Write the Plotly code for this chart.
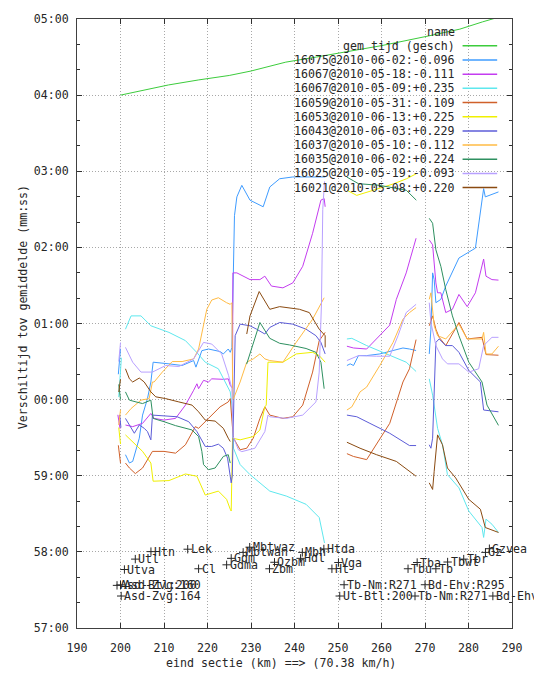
import plotly.graph_objects as go

# ---------------- data ----------------
km_gem = [200.0, 202.0, 206.0, 211.0, 218.0, 225.0, 230.0, 238.0, 245.0, 252.0, 260.0, 270.9, 278.0, 283.2, 287.5]
t_gem = [240, 241.5, 244, 248, 252, 255.5, 259, 266, 270, 274, 279, 286.7, 292, 297.7, 302]

km_16075 = [199.5, 200.0, None,
            201.14, 202.05, 202.8, 204.32, 205.07, 206.2, 206.98, 207.5, 211.14, 214.16, 216.82, 217.34, 218.7, 220.23, 222.89, 223.64, 224.77, 225.23, 225.61, 225.9, 226.2, 226.75, 227.89, 229.77, 232.8, 234.32, 236.59, 239.61, 247.1, None,
            252.05, 252.8, 253.57, 254.7, 256.59, 259.61, 262.66, 264.93, 266.43, 267.95, None,
            270.98, 271.36, 271.75, 272.11, 272.5, 273.64, 274.77, 277.8, 281.59, 283.48, 283.86, 286.89]
t_16075 = [20, 40, None,
           -43.4, -49.9, -48.7, -30.4, -12.2, 0.8, 13.9, 29.5, 28.2, 26.9, 30.8, 25.6, 38.6, 39.9, 37.9, 36.0, 39.9, 37.3, 41, 100, 145, 159.8, 168.9, 157.2, 152.0, 167.6, 174.1, 175.5, 175.5, None,
           26.9, 28.2, 26.9, 34.7, 34.7, 36.0, 38.7, 40.7, 39.9, 38.7, None,
           36.0, 55.5, 99.9, 94.6, 76.4, 79.0, 89.5, 111.6, 119.4, 166.3, 159.8, 163.7]

km_16067a = [199.4, 199.9, None,
             201.14, 202.8, 205.07, 206.98, 207.73, 210.0, 212.66, 214.93, 216.82, 217.57, 217.95, 219.09, 220.23, 220.98, 223.64, 224.77, 225.23, 225.75, 225.84, 226.75, 229.77, 232.05, 233.18, 234.7, 237.34, 239.61, 241.89, 244.16, 246.07, 246.82, 247.05, None,
             252.05, 253.57, 256.59, 261.89, 263.41, 265.68, 267.95, None,
             270.98, 271.75, 272.5, 272.89, 273.64, 274.77, 276.3, 277.8, 279.7, 281.59, 283.48, 284.02, 285.39, 286.89]
t_16067a = [-12, -23, None,
            -20.0, -21.3, -18.7, -10.9, -14.8, -16.1, -14.8, -4.3, 7.4, 12.5, 8.6, 15.2, 13.9, 16.4, 16.0, 16.4, 11.3, 9, 99.9, 99.9, 94.6, 94.6, 97.3, 89.5, 88.1, 92.0, 105.1, 131.1, 157.2, 158.5, 152.0, None,
            42.1, 40.7, 39.9, 58.7, 79.0, 99.9, 127.2, None,
            125.9, 122.0, 92.0, 84.2, 84.2, 68.6, 71.2, 82.9, 73.3, 84.2, 110.8, 97.3, 94.6, 94.2]

km_16067b = [199.6, 200.0, 200.2, None,
             201.14, 202.43, 204.7, 206.98, 211.14, 214.93, 217.5, 219.48, 222.5, 224.39, 225.23, 225.61, 225.98, 227.5, 229.77, 234.32, 238.11, 242.66, 245.68, 246.9, None,
             252.05, 253.18, 256.59, 261.89, 265.68, 267.95, None,
             270.98, 271.75, 272.89, 274.02, 275.16, 277.8, 280.07, 283.11, 283.48, 284.02, 285.39, 286.89]
t_16067b = [2, 22, 33, None,
            55.5, 66.0, 66.0, 58.2, 53.0, 46.5, 37.3, 29.5, 24.3, 11.5, 6.1, -4.3, -38.3, -51.2, -59.1, -72.1, -76.0, -82.5, -92.9, -113, None,
            47.8, 48.3, 42.6, 34.7, 29.5, 22.2, None,
            16.4, 3.5, -22.6, -35.6, -59.1, -69.5, -87.8, -100.8, -108.6, -94.2, -98.2, -104.7]

km_16059 = [199.5, 200.0, None,
            201.14, 202.05, 203.41, 205.07, 207.34, 210.0, 212.66, 214.93, 217.2, 217.95, 220.23, 222.89, 224.77, 225.23, 225.7, 225.98, 227.5, 229.02, 230.52, 232.05, 233.18, 234.32, 237.34, 239.61, 241.89, 244.16, 245.68, 247.05, None,
            252.05, 253.57, 256.59, 261.89, 264.93, 266.43, 267.95, None,
            270.98, 271.75, 272.5, 273.25, 274.77, 277.8, 279.7, 283.11, 284.02, 285.39, 286.89]
t_16059 = [-36, -50, None,
           -50.0, -53.9, -58.3, -53.9, -40.8, -40.8, -42.2, -35.6, -21.3, -22.6, -14.8, -5.7, -1.8, 0.8, -20, -30.4, -39.5, -38.3, -30.4, -14.8, -5.7, -12.2, -14.8, -13.5, -4.3, 21.7, 46.5, 53.0, None,
           -42.6, -44.8, -47.3, -18.7, 13.9, 24.3, 47.3, None,
           58.2, 66.0, 55.5, 49.1, 42.6, 60.8, 47.8, 49.1, 35.5, 35.5, 35.0]

km_16053 = [199.6, 200.0, None,
            201.14, 202.8, 205.07, 206.98, 207.5, 211.14, 214.93, 217.57, 219.48, 222.5, 224.39, 225.23, 225.45, 225.75, 227.5, 230.52, 232.05, 233.18, 233.5, 233.9, 237.34, 240.39, 244.16, 245.68, 247.05, None,
            252.05, 254.3, 258.1, 262.7, 265.7, 268.0]
t_16053 = [-22, -35, None,
           -27.8, -33.0, -40.8, -50.0, -64.3, -63.8, -58.6, -60.4, -75.2, -72.1, -78.6, -86.4, -87.8, -30.4, -31.7, -29.1, -23.9, -5.7, -4.3, 29.5, 29.5, 36.0, 37.3, 34.7, 29.5, None,
           165, 161, 165, 170, 174, 178]

km_16043 = [199.8, 200.1, None,
            201.14, 202.05, 203.18, 204.32, 205.45, 206.2, 206.98, 207.34, 210.0, 213.02, 215.68, 217.57, 219.48, 220.98, 222.5, 223.64, 224.61, 225.23, 225.45, 225.7, 226.36, 227.5, 229.77, 231.3, 233.18, 234.32, 236.59, 239.61, 242.66, 244.93, 246.07, 247.05, None,
            252.05, 254.32, 257.34, 261.89, 266.43, 267.95, None,
            270.98, 271.36, 271.75, 272.11, 272.5, 273.25, 274.77, 276.3, 277.8, 280.07, 282.73, 283.48, 286.89]
t_16043 = [-12, -22, None,
           -14.8, -20.0, -26.5, -20.0, -22.6, -25.2, -31.7, -12.2, -12.8, -13.5, -17.4, -25.2, -36.9, -36.9, -35.1, -38.3, -46.1, -61.7, -65.6, -60, 50.4, 59.5, 58.2, 55.5, 51.7, 56.9, 60.8, 59.5, 55.5, 50.4, 45.1, 36.0, None,
           -12.2, -13.5, -18.7, -26.5, -36.2, -36.2, None,
           -35.6, -38.3, -30.4, 13.9, 45.1, 47.8, 42.6, 42.6, 37.3, 23.0, 13.9, -8.2, -9.6]

km_16037 = [199.6, 200.0, None,
            201.14, 202.43, 204.7, 206.59, 207.34, 207.73, 209.61, 211.89, 214.16, 216.82, 217.95, 219.09, 219.84, 220.98, 222.5, 224.39, 225.23, 225.61, 225.8, 225.98, 227.5, 229.02, 230.52, 232.05, 233.18, 234.32, 237.34, 240.39, 244.16, 246.82, None,
            252.05, 253.18, 255.07, 256.59, 259.61, 262.66, 264.93, 266.43, 267.95, None,
            270.98, 271.36, 272.11, 272.89, 274.77, 277.8, 279.7, 283.11, 283.48, 284.02, 285.39, 286.89]
t_16037 = [-20, -8, None,
           -12.2, -7.0, -0.4, 0.8, 13.9, 13.9, 21.7, 30.0, 30.0, 32.1, 39.9, 58.2, 71.2, 78.5, 80.3, 76.4, 75.1, 76.4, 0, 0.8, 13.9, 29.5, 32.1, 36.0, 32.1, 30.8, 29.5, 45.1, 63.4, 80.3, None,
           -8.2, -5.7, 6.1, 9.9, 26.9, 45.1, 63.4, 68.6, 72.5, None,
           79.0, 84.2, 58.2, 50.4, 47.8, 59.5, 47.8, 47.8, 53.0, 36.0, 36.0, 42.1]

km_16035 = [199.6, 200.0, None,
            201.14, 202.05, 203.57, 205.07, 206.98, 207.5, 210.0, 212.66, 216.43, 217.95, 218.7, 219.09, 220.23, 221.75, 223.64, 224.77, 225.23, None,
            229.0, 232.05, 234.32, 236.59, 238.86, 242.66, 244.93, 246.07, 246.82, None,
            252.0, 254.7, 259.6, 265.7, 268.0, None,
            270.98, 271.75, 272.5, 273.64, 274.77, 276.3, 277.8, 280.07, 283.11, 284.25, 286.89]
t_16035 = [12, 0, None,
           6.1, -0.4, -1.8, -3.1, -0.4, -14.8, -17.4, -20.5, -23.9, -29.1, -40.8, -51.2, -55.2, -53.9, -44.8, -43.4, -50.0, None,
           28.0, 60.8, 48.3, 44.4, 43.1, 40.3, 37.3, 29.5, 8.6, None,
           175.5, 170.2, 168.9, 165.0, 157.2, None,
           142.9, 139.0, 118.1, 105.1, 86.8, 66.0, 50.4, 29.5, 13.9, -4.3, -20.3]

km_16025 = [199.6, 200.0, None,
            201.14, 202.8, 204.7, 207.34, 210.39, 213.41, 216.82, 219.09, 220.98, 223.25, 224.84, 225.61, 225.9, 227.1, 227.89, 230.9, 233.18, 233.9, 234.32, 238.11, 241.89, 244.93, 245.68, 246.2, 246.5, 246.9, None,
            252.05, 254.7, 258.86, 261.89, 263.8, 265.68, 267.95, None,
            270.98, 271.36, 272.5, 274.02, 275.16, 277.8, 280.07, 282.34, 283.48, 285.39, 286.89]
t_16025 = [30, 45, None,
           41.2, 29.5, 21.7, 21.7, 26.9, 26.1, 32.1, 45.1, 43.8, 36.0, 19.1, 8.6, -29, -39.5, -41, -38.3, -25.2, -12.2, -13.5, -14.8, -12.2, -1.8, 21.7, 76, 150, 172, None,
           30.8, 34.7, 34.2, 34.2, 50.4, 68.6, 75.1, None,
           76.4, 60.8, 42.6, 32.1, 28.2, 28.2, 21.7, 24.3, 42.6, 49.1, 49.1]

km_16021 = [199.6, 200.0, None,
            201.14, 202.05, 202.8, 204.32, 205.45, 206.98, 208.11, 210.39, 213.41, 216.43, 217.95, 219.48, 221.75, 223.64, 224.77, 225.23, None,
            229.02, 229.77, 231.88, 234.32, 236.59, 241.14, 243.41, 245.68, 247.05, 247.05, None,
            252.05, 255.07, 258.86, 263.41, 267.95, None,
            270.98, 271.75, 272.11, 272.89, 274.02, 275.16, 277.05, 280.07, 282.73, 283.86, 286.89]
t_16021 = [6, 16, None,
           24.3, 16.4, 13.9, 17.0, 13.9, 6.1, 2.2, 0.8, -1.8, -4.3, -9.6, -16.1, -16.9, -22.6, -30.4, -33.0, None,
           51.7, 66.0, 85.2, 71.2, 73.3, 71.2, 68.6, 55.5, 50.4, 41.2, None,
           -33.6, -38.3, -43.4, -48.7, -60.4, None,
           -65.6, -70.8, -56.5, -27.8, -35.6, -53.9, -61.7, -78.6, -86.4, -100.8, -104.7]

series_names = ["gem tijd (gesch)",
                "16075@2010-06-02:-0.096", "16067@2010-05-18:-0.111", "16067@2010-05-09:+0.235",
                "16059@2010-05-31:-0.109", "16053@2010-06-13:+0.225", "16043@2010-06-03:+0.229",
                "16037@2010-05-10:-0.112", "16035@2010-06-02:+0.224", "16025@2010-05-19:-0.093",
                "16021@2010-05-08:+0.220"]
series_km = [km_gem, km_16075, km_16067a, km_16067b, km_16059, km_16053, km_16043, km_16037, km_16035, km_16025, km_16021]
series_t = [t_gem, t_16075, t_16067a, t_16067b, t_16059, t_16053, t_16043, t_16037, t_16035, t_16025, t_16021]
series_colors = ["#3ccc3c", "#3f9cff", "#c43cf0", "#5ee8ee", "#d0602a", "#f0f000", "#5c5cd8",
                 "#ffbb44", "#2e9060", "#b8a0ff", "#8a4a10"]

station_names = ["Asd-Zvg:164", "Asd-Btl:200", "Asd-Zvg:160", "Utva", "Utl", "Htn", "Lek", "Cl", "Gdma", "Gdm",
                 "Mbtwan", "Mbtwaz", "Zbm", "Ozbm", "Hdl", "Mbh", "Htda", "Ht", "Vga", "Tb-Nm:R271",
                 "Ut-Btl:200", "Tbu", "Tba", "Tb-Nm:R271", "Bd-Ehv:R295", "Tb", "Tbwt", "Tbr",
                 "Bd-Ehv:R295", "Gz", "Gzvea"]
station_km = [200.16, 199.2, 200.0, 200.9, 203.4, 207.0, 215.45, 217.95, 224.4, 225.45,
              228.2, 229.7, 234.25, 235.4, 241.4, 241.8, 246.75, 248.6, 250.1, 251.4,
              250.4, 266.1, 268.2, 267.7, 270.0, 272.5, 275.2, 278.9,
              285.6, 283.9, 284.8]
station_t = [-154.8, -146.4, -146.0, -133.9, -125.7, -119.8, -117.9, -133.3, -130.2, -125.1,
             -120.4, -116.3, -133.3, -128.2, -125.1, -120.4, -117.7, -133.3, -128.4, -145.9,
             -154.8, -133.3, -128.4, -154.8, -145.9, -133.3, -128.0, -125.7,
             -154.8, -120.4, -117.5]

ytick_vals = [-180, -120, -60, 0, 60, 120, 180, 240, 300]
ytick_text = ["57:00", "58:00", "59:00", "00:00", "01:00", "02:00", "03:00", "04:00", "05:00"]

# ---------------- figure ----------------
FONT = "DejaVu Sans Mono"
FS = 11.6
TXT = "#262626"
fig = go.Figure()
for name, xs, ys, col in zip(series_names, series_km, series_t, series_colors):
    fig.add_trace(go.Scatter(x=xs, y=ys, mode="lines", name=name,
                             line=dict(color=col, width=1), connectgaps=False,
                             showlegend=False))

fig.add_trace(go.Scatter(x=station_km, y=station_t, mode="markers",
                         marker=dict(symbol="cross-thin", size=6, line=dict(width=1, color=TXT),
                                     color=TXT),
                         cliponaxis=False, showlegend=False))

W, H = 534, 673
L, R, T, B = 77, 17, 14, 45
pw, ph = W - L - R, H - T - B

def px2paper(px, py):
    return (px - L) / pw, (H - B - py) / ph

annotations = []
shapes = []
for name, xv, yv in zip(station_names, station_km, station_t):
    annotations.append(dict(x=xv, y=yv, xref="x", yref="y", text=name, showarrow=False,
                            xanchor="left", yanchor="middle", xshift=1,
                            font=dict(family=FONT, size=FS, color=TXT)))

# legend title
x0, y0 = px2paper(461, 27)
annotations.append(dict(x=x0, y=y0, xref="paper", yref="paper", text="name", showarrow=False,
                        xanchor="right", yanchor="middle", font=dict(family=FONT, size=FS, color=TXT)))
for i, (name, col) in enumerate(zip(series_names, series_colors)):
    py = 41 + 14.3 * i
    xa, ya = px2paper(461, py)
    annotations.append(dict(x=xa, y=ya, xref="paper", yref="paper", text=name, showarrow=False,
                            xanchor="right", yanchor="middle",
                            font=dict(family=FONT, size=FS, color=TXT)))
    lx0, _ = px2paper(467, py)
    lx1, _ = px2paper(502, py)
    shapes.append(dict(type="line", xref="paper", yref="paper", x0=lx0, x1=lx1, y0=ya, y1=ya,
                       line=dict(color=col, width=1.5)))

# axis titles
xt, yt = px2paper(283, 663)
annotations.append(dict(x=xt, y=yt, xref="paper", yref="paper", text="eind sectie (km) ==> (70.38 km/h)",
                        showarrow=False, xanchor="center", yanchor="middle",
                        font=dict(family=FONT, size=FS, color=TXT)))
xt, yt = px2paper(22, 305)
annotations.append(dict(x=xt, y=yt, xref="paper", yref="paper", text="Verschiltijd tov gemiddelde (mm:ss)",
                        showarrow=False, xanchor="center", yanchor="middle", textangle=-90,
                        font=dict(family=FONT, size=FS, color=TXT)))

fig.update_layout(
    width=W, height=H,
    margin=dict(l=L, r=R, t=T, b=B, pad=0),
    paper_bgcolor="white", plot_bgcolor="white",
    font=dict(family=FONT, size=FS, color=TXT),
    annotations=annotations, shapes=shapes,
    showlegend=False,
)
fig.update_xaxes(range=[190, 290], tickmode="linear", tick0=190, dtick=10,
                 ticks="inside", ticklen=5, tickcolor="#303030", mirror="ticks",
                 showline=True, linecolor="#404040", linewidth=1,
                 showgrid=True, gridcolor="#a8a8a8", griddash="1px,2px", gridwidth=1,
                 zeroline=False, ticklabelstandoff=9,
                 tickfont=dict(family=FONT, size=FS, color=TXT))
fig.update_yaxes(range=[-180, 300], tickmode="array", tickvals=ytick_vals, ticktext=ytick_text,
                 ticks="inside", ticklen=5, tickcolor="#303030", mirror="ticks",
                 showline=True, linecolor="#404040", linewidth=1,
                 showgrid=True, gridcolor="#a8a8a8", griddash="1px,2px", gridwidth=1,
                 zeroline=False, ticklabelstandoff=5,
                 tickfont=dict(family=FONT, size=FS, color=TXT),
                 minor=dict(tickmode="linear", tick0=0, dtick=20, ticks="inside", ticklen=3,
                            tickcolor="#303030", showgrid=False))

fig.write_html("out.html")
